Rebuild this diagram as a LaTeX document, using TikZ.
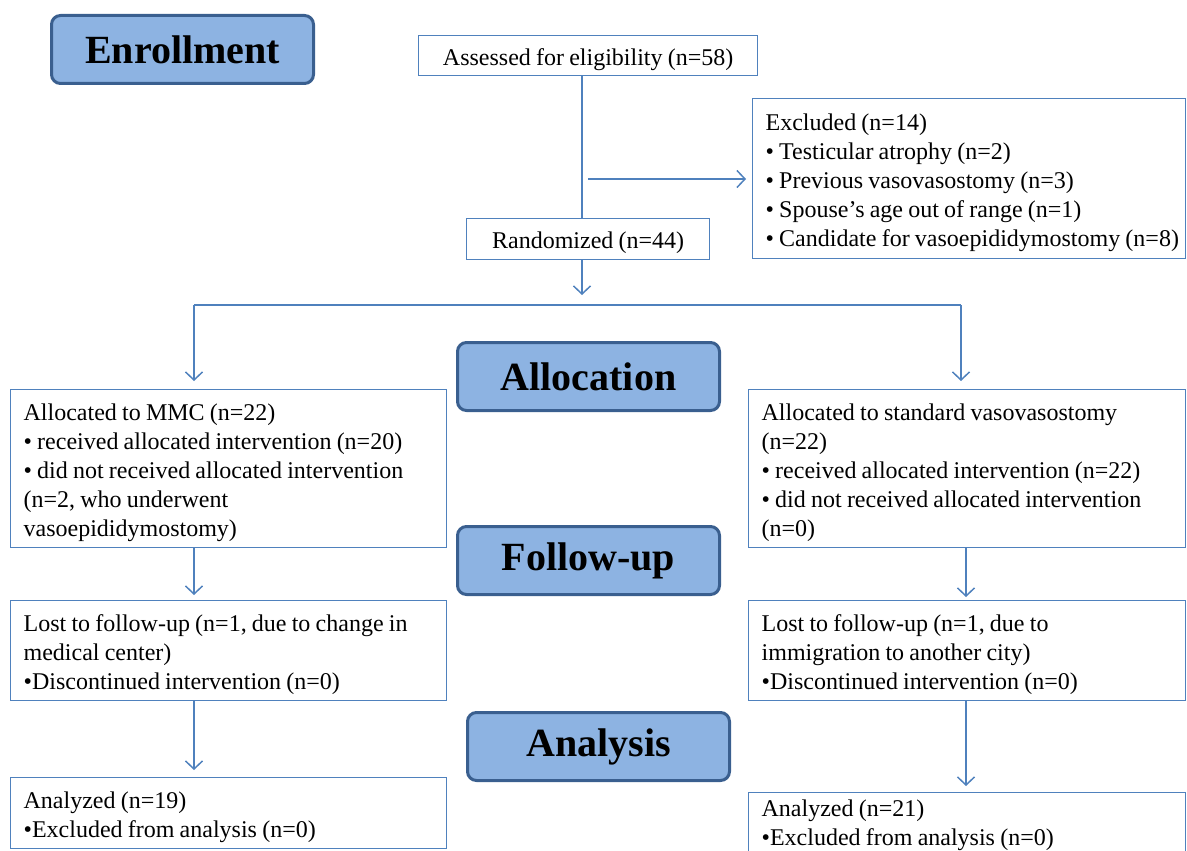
\documentclass[tikz,border=0pt]{standalone}
\usepackage{fontspec}
\setmainfont{Liberation Serif}
\usetikzlibrary{arrows.meta}
\definecolor{hdrfill}{HTML}{8DB3E2}
\definecolor{hdrline}{HTML}{3A5F8F}
\definecolor{boxline}{HTML}{4F81BD}
\newcommand{\tightspace}{\spaceskip=5.2pt plus 1pt minus 1pt\relax}
\tikzset{
  stage/.style={draw=hdrline, line width=3pt, fill=hdrfill, rounded corners=9pt,
    minimum width=262pt, minimum height=68pt, anchor=north west,
    font=\fontsize{40}{46}\selectfont\bfseries},
  infobox/.style={draw=boxline, line width=1.3pt, anchor=north west, inner xsep=13pt,
    inner ysep=0pt, align=left, font=\fontsize{24}{29}\selectfont,
    execute at begin node={\tightspace\rule{0pt}{24pt}}},
  flow/.style={draw=boxline, line width=1.5pt,
    -{Straight Barb[length=8pt,width=17pt]}},
  link/.style={draw=boxline, line width=1.5pt}
}
\begin{document}
\begin{tikzpicture}[x=1pt,y=-1pt]
    \clip (0,0) rectangle (1187,851);

    % Etapas
    \node[stage] (enroll) at (50,14) {Enrollment};
    \node[stage] (alloc) at (456,341) {Allocation};
    \node[stage] (follow) at (456,525) {Follow-up};
    \node[stage] (anal) at (466,711) {Analysis};

    % Cribado
    \node[infobox, align=center, minimum width=339pt, minimum height=40pt] (assess) at (418,35)
        {Assessed for eligibility (n=58)};
    \node[infobox, text width=407pt, minimum height=160pt] (excl) at (752,98)
        {Excluded (n=14)\\
         • Testicular atrophy (n=2)\\
         • Previous vasovasostomy (n=3)\\
         • Spouse’s age out of range (n=1)\\
         \mbox{• Candidate for vasoepididymostomy (n=8)}};
    \node[infobox, align=center, minimum width=243pt, minimum height=41pt] (rand) at (466,218)
        {Randomized (n=44)};

    % Asignacion
    \node[infobox, text width=410pt, minimum height=158pt] (allocL) at (10,389)
        {Allocated to MMC (n=22)\\
         • received allocated intervention (n=20)\\
         • did not received allocated intervention\\
         (n=2, who underwent\\
         vasoepididymostomy)};
    \node[infobox, text width=411pt, minimum height=158pt] (allocR) at (748,389)
        {Allocated to standard vasovasostomy\\
         (n=22)\\
         • received allocated intervention (n=22)\\
         • did not received allocated intervention\\
         (n=0)};

    % Seguimiento
    \node[infobox, text width=410pt, minimum height=100pt] (lostL) at (10,600)
        {Lost to follow-up (n=1, due to change in\\
         medical center)\\
         •Discontinued intervention (n=0)};
    \node[infobox, text width=411pt, minimum height=100pt] (lostR) at (748,600)
        {Lost to follow-up (n=1, due to\\
         immigration to another city)\\
         •Discontinued intervention (n=0)};

    % Analisis
    \node[infobox, text width=410pt, minimum height=71pt] (analL) at (10,777)
        {Analyzed (n=19)\\
         •Excluded from analysis (n=0)};
    \node[infobox, text width=411pt] (analR) at (748,792)
        {Analyzed (n=21)\\
         •Excluded from analysis (n=0)\rule[-20pt]{0pt}{20pt}};

    % Puntos de paso
    \coordinate (trunk) at (582,0);
    \coordinate (split) at (588,179);
    \coordinate (drop) at (582,295);
    \coordinate (brL) at (194,305);
    \coordinate (brR) at (961,305);
    \coordinate (colL) at (194,0);
    \coordinate (colR) at (966,0);

    % Flechas
    \draw[link] (assess.south -| trunk) -- (rand.north -| trunk);
    \draw[flow, shorten >=6pt] (split) -- (split -| excl.west);
    \draw[flow] (rand.south -| trunk) -- (drop);
    \draw[link] (brL) -- (brR);
    \draw[flow, shorten >=8pt] (brL) -- (brL |- allocL.north);
    \draw[flow, shorten >=8pt] (brR) -- (brR |- allocR.north);
    \draw[flow, shorten >=5pt] (allocL.south -| colL) -- (lostL.north -| colL);
    \draw[flow, shorten >=3pt] (allocR.south -| colR) -- (lostR.north -| colR);
    \draw[flow, shorten >=7pt] (lostL.south -| colL) -- (analL.north -| colL);
    \draw[flow, shorten >=6pt] (lostR.south -| colR) -- (analR.north -| colR);
\end{tikzpicture}
\end{document}
